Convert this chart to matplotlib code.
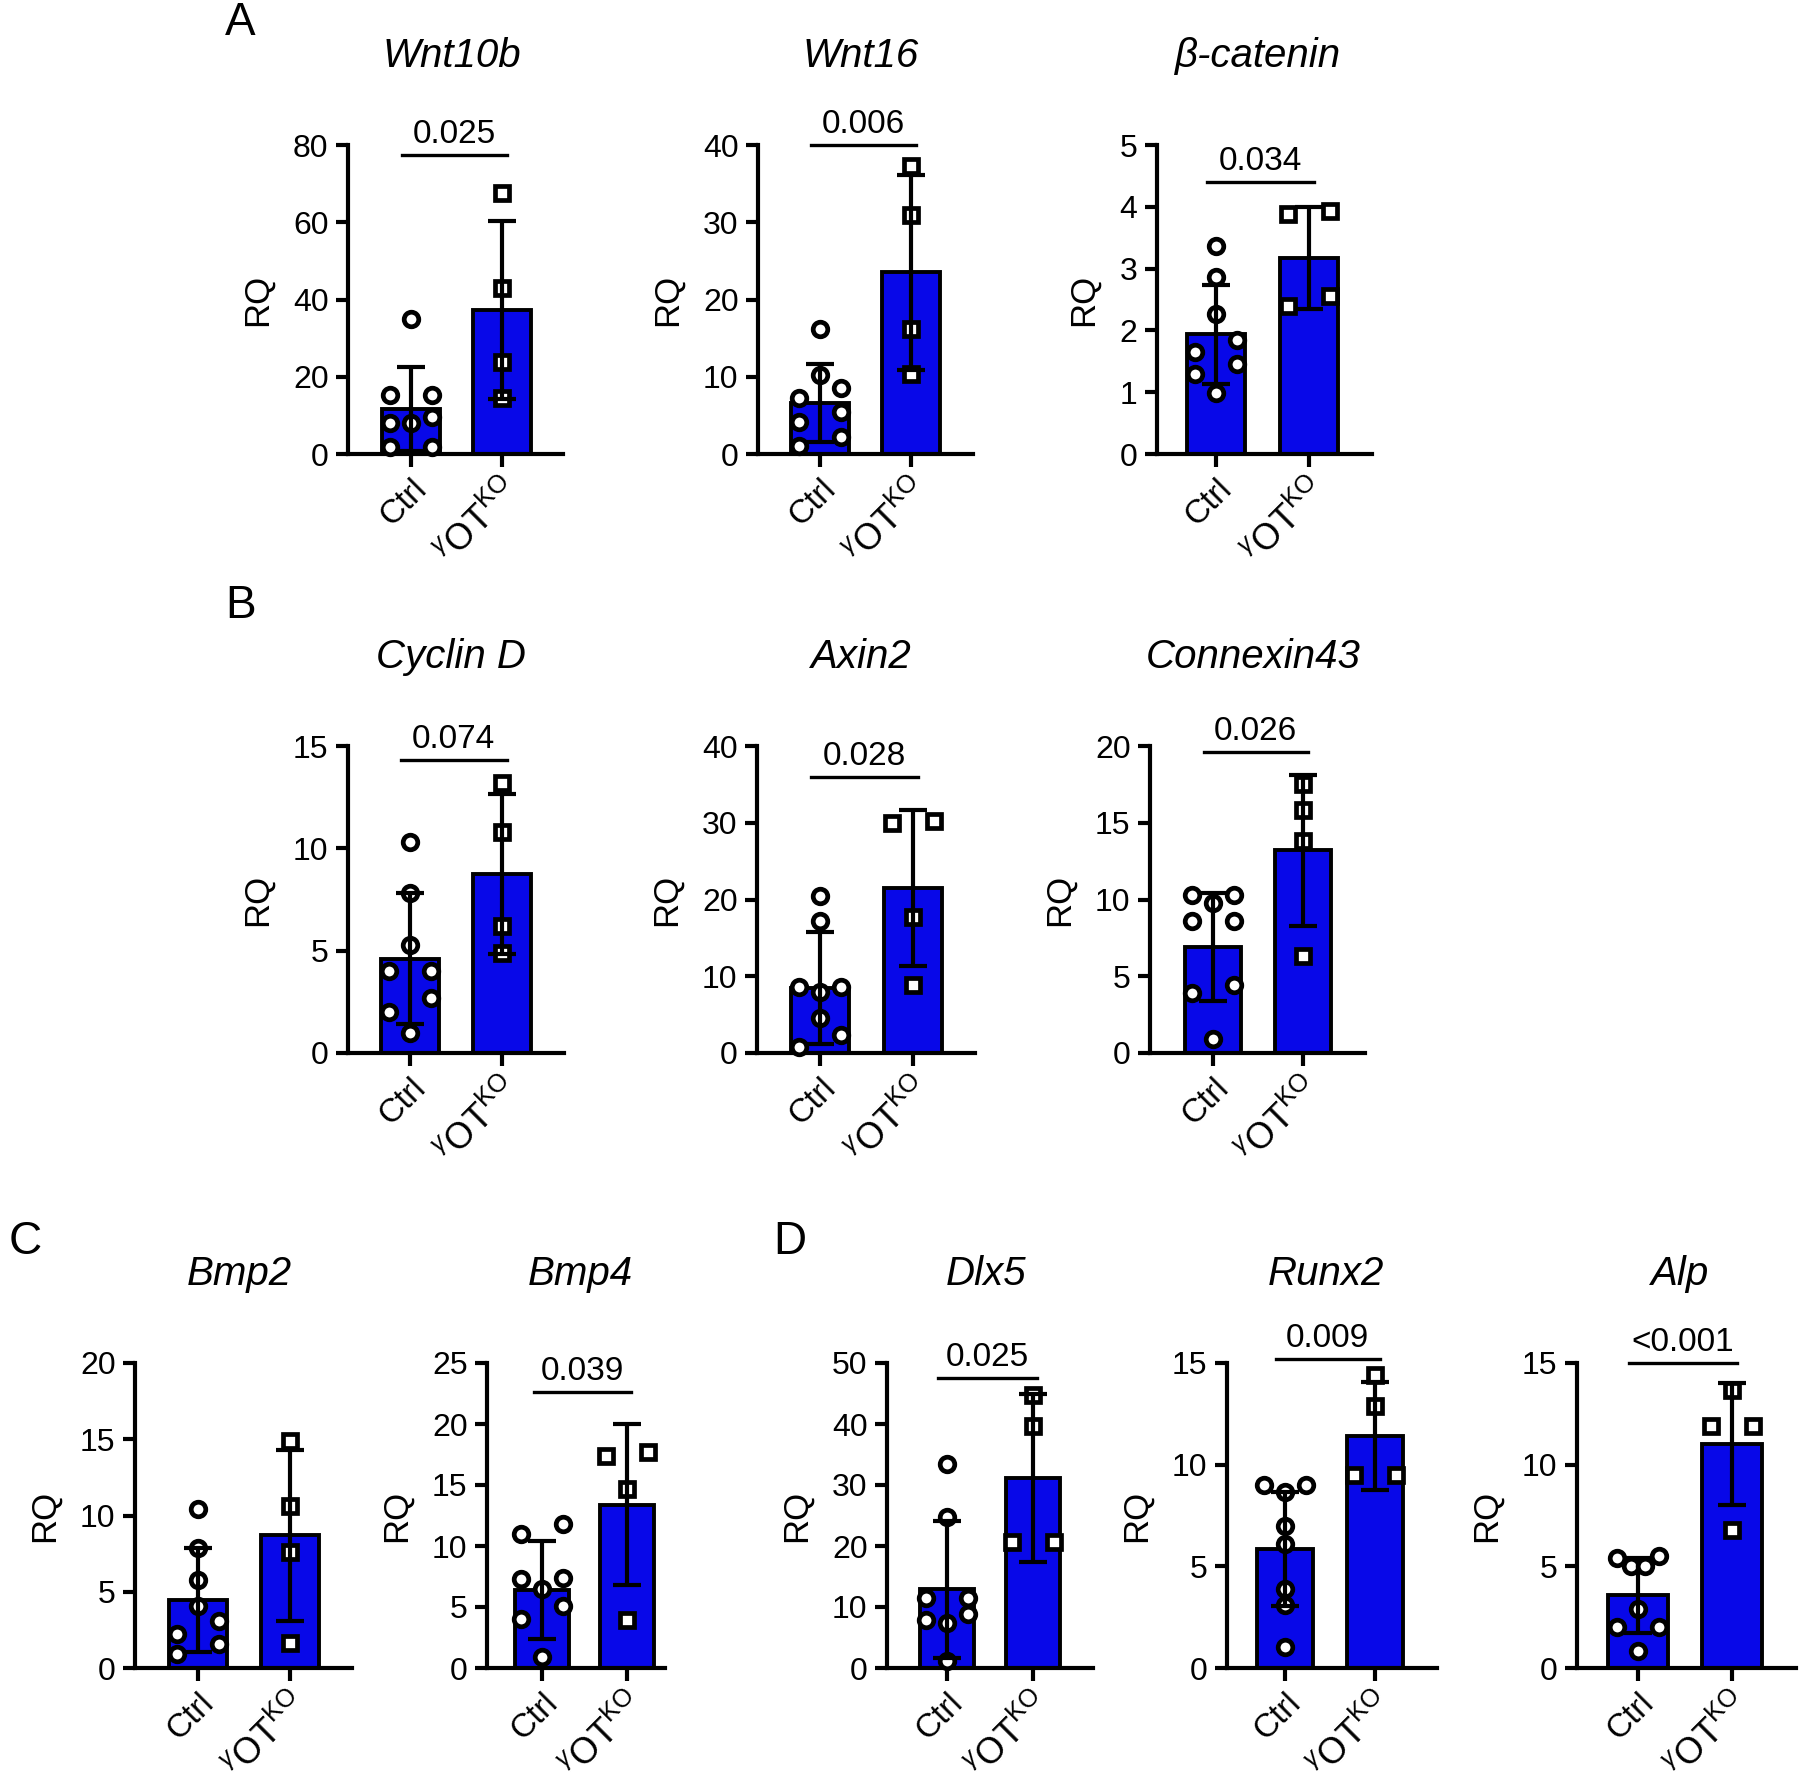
import numpy as np
import matplotlib.pyplot as plt

plt.rcParams['font.family'] = ['Liberation Sans', 'DejaVu Sans']
plt.rcParams['mathtext.fontset'] = 'custom'
plt.rcParams['mathtext.rm'] = 'Liberation Sans'
plt.rcParams['mathtext.it'] = 'Liberation Sans:italic'

# ---- data ----
genes = ['Wnt10b', 'Wnt16', 'β-catenin', 'Cyclin D', 'Axin2', 'Connexin43',
         'Bmp2', 'Bmp4', 'Dlx5', 'Runx2', 'Alp']
groups = ['Ctrl', r'$^{\gamma}$OT$^{\mathregular{KO}}$']

ctrl_pts = [
    [35.0, 15.3, 15.3, 9.7, 7.9, 7.9, 1.9, 1.9],
    [16.2, 10.2, 8.6, 7.2, 5.4, 4.1, 2.2, 1.1],
    [3.37, 2.87, 2.27, 1.84, 1.65, 1.46, 1.30, 0.98],
    [10.3, 7.8, 5.3, 4.0, 4.0, 2.7, 2.0, 1.0],
    [20.5, 17.2, 8.6, 8.6, 8.0, 4.6, 2.4, 0.8],
    [10.3, 10.3, 9.8, 8.6, 8.6, 4.4, 3.9, 0.9],
    [10.4, 7.9, 5.8, 4.05, 3.1, 2.26, 1.55, 0.95],
    [11.8, 11.0, 7.4, 7.3, 6.5, 5.1, 4.0, 0.9],
    [33.5, 24.7, 11.5, 11.5, 8.8, 7.9, 7.4, 1.2],
    [9.0, 9.0, 8.64, 7.0, 6.1, 3.9, 3.1, 1.05],
    [5.5, 5.42, 5.0, 5.0, 2.9, 2.0, 2.0, 0.83],
]
ko_pts = [
    [67.7, 42.9, 23.9, 14.4],
    [37.3, 30.9, 16.2, 10.4],
    [3.93, 3.88, 2.55, 2.39],
    [13.2, 10.8, 6.2, 4.9],
    [30.2, 30.0, 17.7, 8.9],
    [17.5, 15.8, 13.8, 6.3],
    [14.9, 10.6, 7.6, 1.67],
    [17.7, 17.4, 14.7, 3.9],
    [44.7, 39.7, 20.6, 20.6],
    [14.4, 12.9, 9.5, 9.5],
    [13.67, 11.9, 11.9, 6.8],
]
ctrl_mean = [11.6, 6.6, 1.94, 4.6, 8.5, 6.9, 4.45, 6.4, 12.9, 5.85, 3.58]
ctrl_sd = [10.9, 5.05, 0.80, 3.2, 7.3, 3.5, 3.4, 4.0, 11.2, 2.8, 1.84]
ko_mean = [37.3, 23.5, 3.17, 8.76, 21.5, 13.2, 8.69, 13.4, 31.2, 11.4, 11.0]
ko_sd = [23.0, 12.6, 0.82, 3.9, 10.2, 4.9, 5.6, 6.6, 13.8, 2.65, 3.0]

y_max = [80, 40, 5, 15, 40, 20, 20, 25, 50, 15, 15]
y_step = [20, 10, 1, 5, 10, 5, 5, 5, 10, 5, 5]
p_text = ['0.025', '0.006', '0.034', '0.074', '0.028', '0.026', None,
          '0.039', '0.025', '0.009', '<0.001']
p_y = [77.5, 40, 4.4, 14.3, 36, 19.6, None, 22.6, 47.5, 15.2, 15.0]

# ---- layout in pixels of the 1800 x 1788 canvas ----
W, H = 1800, 1788
ax_left = [348, 758, 1157, 348, 757, 1150, 135, 487, 887, 1227, 1577]
ax_right = [563, 973, 1372, 564, 975, 1365, 352, 665, 1093, 1437, 1796]
ctrl_x = [411, 820, 1216, 410, 820, 1213, 198, 542, 947, 1285, 1638]
ko_x = [502, 911, 1309, 502, 913, 1303, 290, 627, 1033, 1375, 1732]
ax_top = [145] * 3 + [746] * 3 + [1363] * 5
ax_bottom = [454] * 3 + [1053] * 3 + [1668] * 5

BLUE = '#0808e8'
LW = 3.0
PT = 72 / 100  # points per pixel at dpi 100


def swarm(vals, ypx, half_px=21, thresh_px=15):
    # GraphPad-like horizontal spreading of points with close values
    vals = np.asarray(vals, float)
    order = np.argsort(vals)
    offs = np.zeros(len(vals))
    rows = []
    for i in order:
        if rows and (vals[i] - vals[rows[-1][0]]) * ypx < thresh_px:
            rows[-1].append(i)
        else:
            rows.append([i])
    for row in rows:
        n = len(row)
        if n == 1:
            continue
        slots = sorted(np.linspace(-half_px, half_px, n), key=lambda v: (abs(v), v))
        for i, sl in zip(row, slots):
            offs[i] = sl
    return offs


fig = plt.figure(figsize=(W / 100, H / 100), dpi=100)

for i in range(len(genes)):
    L, R, T, B = ax_left[i], ax_right[i], ax_top[i], ax_bottom[i]
    ax = fig.add_axes([L / W, 1 - B / H, (R - L) / W, (B - T) / H])
    s = ko_x[i] - ctrl_x[i]
    ax.set_xlim((L - ctrl_x[i]) / s, 1 + (R - ko_x[i]) / s)
    ax.set_ylim(0, y_max[i])

    ax.bar([0, 1], [ctrl_mean[i], ko_mean[i]], width=0.63, color=BLUE,
           edgecolor='black', linewidth=2.8, zorder=2)

    ypx = (B - T) / y_max[i]
    oc = swarm(ctrl_pts[i], ypx) / s
    ok = swarm(ko_pts[i], ypx) / s
    ax.plot(0 + oc, ctrl_pts[i], 'o', ms=10.5, mfc='white', mec='black',
            mew=3.4, ls='none', zorder=3, clip_on=False)
    ax.plot(1 + ok, ko_pts[i], 's', ms=10.5, mfc='white', mec='black',
            mew=3.4, ls='none', zorder=3, clip_on=False)
    ax.errorbar([0, 1], [ctrl_mean[i], ko_mean[i]], yerr=[ctrl_sd[i], ko_sd[i]],
                fmt='none', ecolor='black', elinewidth=3.0, capsize=10,
                capthick=3.0, zorder=4, clip_on=False)

    for side in ('top', 'right'):
        ax.spines[side].set_visible(False)
    for side in ('left', 'bottom'):
        ax.spines[side].set_linewidth(LW)

    ticks = np.arange(0, y_max[i] + y_step[i] / 2, y_step[i])
    ax.set_yticks(ticks)
    ax.set_yticklabels(['%g' % t for t in ticks])
    ax.set_xticks([0, 1])
    ax.set_xticklabels(groups, rotation=45, ha='right', rotation_mode='anchor')
    ax.tick_params(axis='both', direction='out', length=9, width=LW,
                   labelsize=23, pad=5)
    xl = ax.get_xticklabels()
    xl[0].set_fontsize(24)
    xl[1].set_fontsize(26)
    ax.set_ylabel('RQ', fontsize=25, labelpad=14)

    ax.annotate(genes[i], xy=(0.45, 1), xycoords=('data', 'axes fraction'),
                xytext=(0, 78 * PT), textcoords='offset points',
                ha='center', va='baseline', fontsize=29, style='italic',
                annotation_clip=False)

    if p_text[i] is not None:
        ax.plot([-0.1, 1.05], [p_y[i], p_y[i]], color='black', lw=2.4,
                clip_on=False, zorder=5)
        ax.annotate(p_text[i], xy=(0.475, p_y[i]), xycoords='data',
                    xytext=(0, 12 * PT), textcoords='offset points',
                    ha='center', va='baseline', fontsize=24,
                    annotation_clip=False)

for letter, x, y in [('A', 240, 23), ('B', 241, 606), ('C', 25, 1242), ('D', 790, 1242)]:
    fig.text(x / W, 1 - y / H, letter, ha='center', va='center', fontsize=33)

fig.savefig('out.png', dpi=100)
